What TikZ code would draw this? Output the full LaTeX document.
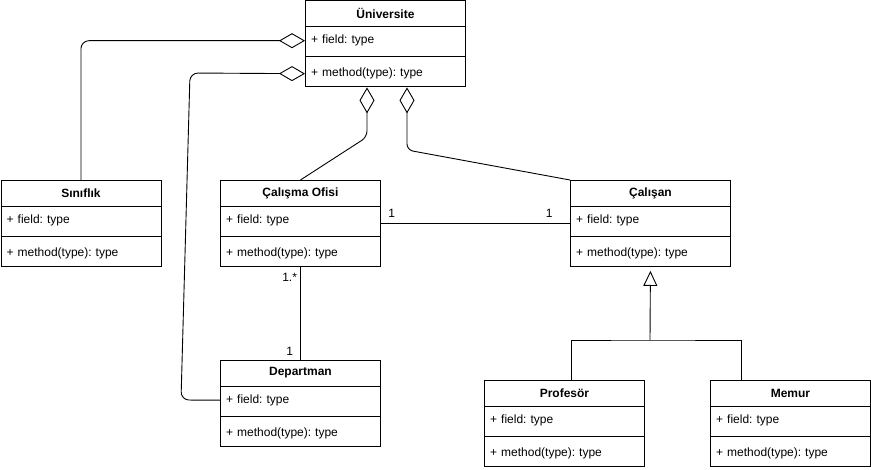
\documentclass[tikz,border=0pt]{standalone}
\usepackage{fontspec}
\setmainfont{Liberation Sans}
\usetikzlibrary{arrows.meta, positioning, calc}

\tikzset{
  classbox/.style={draw, line width=0.9pt, anchor=north west,
    minimum width=160pt, minimum height=86pt, inner sep=0pt},
  classtitle/.style={font=\bfseries\fontsize{12}{14}\selectfont, inner sep=0pt},
  memberrow/.style={anchor=north west, font=\fontsize{12}{14}\selectfont\frenchspacing,
    text width=148pt, minimum height=26pt, inner xsep=6pt, inner ysep=0pt,
    align=left},
  assoc/.style={line width=0.9pt},
  mult/.style={font=\fontsize{12}{14}\selectfont, inner sep=0pt},
  aggr/.style={-{Diamond[open, length=26pt, width=15pt, line width=0.9pt]}},
  inherit/.style={-{Triangle[open, length=15pt, width=14pt, line width=0.9pt]}}
}

\begin{document}
\begin{tikzpicture}[x=1pt, y=-1pt]
  \useasboundingbox (0,0) rectangle (871,470);
  % classes
  \foreach \n/\x/\y/\t in {uni/305/0.5/Üniversite, sin/0.5/180/Sınıflık,
                           ofis/220/180/Çalışma Ofisi, cal/570/180/Çalışan,
                           dep/220/360/Departman, prof/484/380/Profesör,
                           mem/710/380/Memur}{
    \node[classbox] (\n) at (\x,\y) {};
    \node[classtitle] (\n-t) at ($(\n.north)+(0,13)$) {\t};
    \draw[line width=0.9pt] ($(\n.north west)+(0,26)$) -- ($(\n.north east)+(0,26)$);
    \draw[line width=0.9pt] ($(\n.north west)+(0,56)$) -- ($(\n.north east)+(0,56)$);
    \node[memberrow] (\n-f) at ($(\n.north west)+(0,27)$) {+ field: type};
    \node[memberrow] (\n-m) at ($(\n.north west)+(0,60)$) {+ method(type): type};
  }
  % aggregations to Universite
  \draw[assoc, aggr, rounded corners=8pt] (sin.north) |- (uni-f.west);
  \coordinate (depleft) at (181,400);
  \coordinate (deptop) at (190,73);
  \draw[assoc, aggr, rounded corners=8pt]
    (dep-f.west) -- (depleft) -- (deptop) -- (uni-m.west);
  \coordinate (ofisbend) at (367,137);
  \draw[assoc, aggr, rounded corners=6pt]
    (ofis.north) -- (ofisbend) -- (ofisbend |- uni.south);
  \coordinate (calbend) at (407,150);
  \draw[assoc, aggr, rounded corners=6pt]
    (cal.north west) -- (calbend) -- (calbend |- uni.south);
  % associations
  \draw[assoc] (ofis.east) --
    node[mult, pos=0, anchor=south west, xshift=7pt, yshift=5pt] {1}
    node[mult, pos=1, anchor=south east, xshift=-17pt, yshift=5pt] {1} (cal.west);
  \draw[assoc] (ofis.south) --
    node[mult, pos=0, anchor=north east, xshift=-3pt, yshift=-6pt] {1.*}
    node[mult, pos=1, anchor=south east, xshift=-7pt, yshift=4pt] {1} (dep.north);
  % generalization
  \coordinate (genjoin) at (650,340);
  \coordinate (profin) at (571,380);
  \coordinate (memin) at (741,380);
  \draw[assoc] (profin) |- (genjoin) -| (memin);
  \draw[assoc, inherit, shorten >=4pt] (genjoin) -- (cal.south);
\end{tikzpicture}
\end{document}
